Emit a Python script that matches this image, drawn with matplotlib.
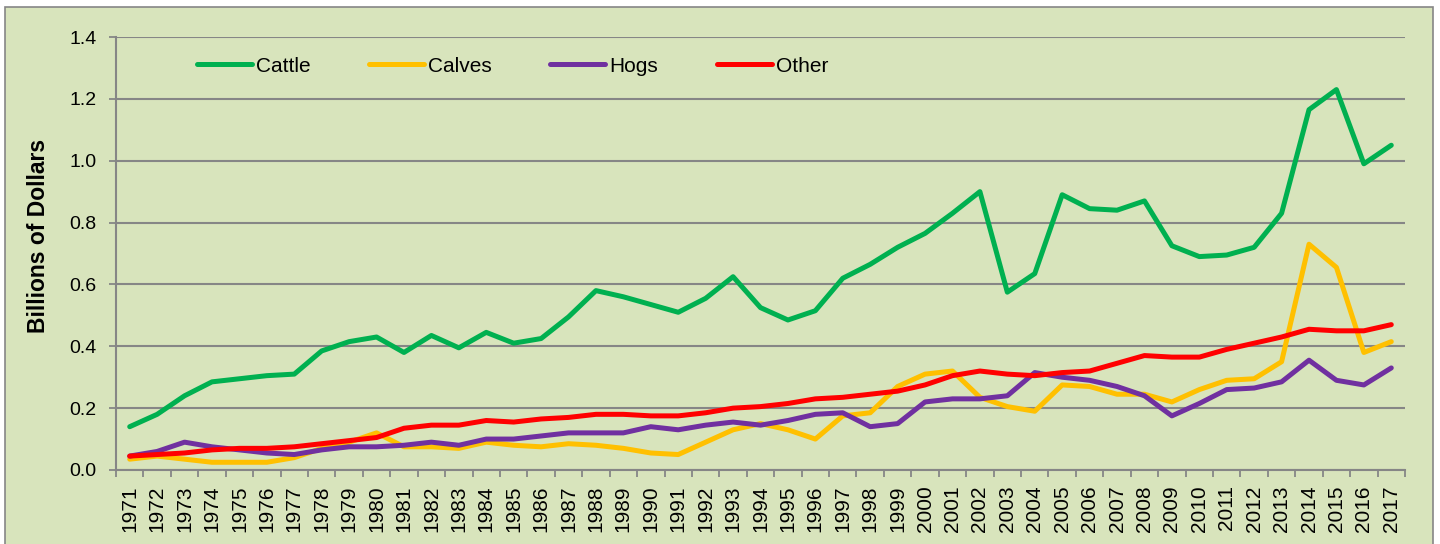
import matplotlib
matplotlib.use("Agg")
import matplotlib.pyplot as plt
from matplotlib.patches import Rectangle
import numpy as np

plt.rcParams['font.family'] = ['Liberation Sans', 'DejaVu Sans']

# 年份
years = list(range(1971, 2018))

# 各类收入 (十亿美元)
cattle = [0.14, 0.18, 0.24, 0.285, 0.295, 0.305, 0.31, 0.385, 0.415, 0.43,
          0.38, 0.435, 0.395, 0.445, 0.41, 0.425, 0.495, 0.58, 0.56, 0.535,
          0.51, 0.555, 0.625, 0.525, 0.485, 0.515, 0.62, 0.665, 0.72, 0.765,
          0.83, 0.9, 0.575, 0.635, 0.89, 0.845, 0.84, 0.87, 0.725, 0.69,
          0.695, 0.72, 0.83, 1.165, 1.23, 0.99, 1.05]
calves = [0.035, 0.045, 0.035, 0.025, 0.025, 0.025, 0.04, 0.07, 0.09, 0.12,
          0.075, 0.075, 0.07, 0.09, 0.08, 0.075, 0.085, 0.08, 0.07, 0.055,
          0.05, 0.09, 0.13, 0.15, 0.13, 0.1, 0.175, 0.185, 0.27, 0.31,
          0.32, 0.235, 0.205, 0.19, 0.275, 0.27, 0.245, 0.245, 0.22, 0.26,
          0.29, 0.295, 0.35, 0.73, 0.655, 0.38, 0.415]
hogs = [0.045, 0.06, 0.09, 0.075, 0.065, 0.055, 0.05, 0.065, 0.075, 0.075,
        0.08, 0.09, 0.08, 0.1, 0.1, 0.11, 0.12, 0.12, 0.12, 0.14,
        0.13, 0.145, 0.155, 0.145, 0.16, 0.18, 0.185, 0.14, 0.15, 0.22,
        0.23, 0.23, 0.24, 0.315, 0.3, 0.29, 0.27, 0.24, 0.175, 0.215,
        0.26, 0.265, 0.285, 0.355, 0.29, 0.275, 0.33]
other = [0.045, 0.05, 0.055, 0.065, 0.07, 0.07, 0.075, 0.085, 0.095, 0.105,
         0.135, 0.145, 0.145, 0.16, 0.155, 0.165, 0.17, 0.18, 0.18, 0.175,
         0.175, 0.185, 0.2, 0.205, 0.215, 0.23, 0.235, 0.245, 0.255, 0.275,
         0.305, 0.32, 0.31, 0.305, 0.315, 0.32, 0.345, 0.37, 0.365, 0.365,
         0.39, 0.41, 0.43, 0.455, 0.45, 0.45, 0.47]

bg = '#D8E4BC'
grid_c = '#868686'

fig = plt.figure(figsize=(14.4, 5.44), dpi=100, facecolor='white')
# 图表区背景和边框
fig.patches.append(Rectangle((5 / 1440, -0.05), 1428 / 1440, 1.05 - 7 / 544,
                             transform=fig.transFigure, facecolor=bg,
                             edgecolor=grid_c, linewidth=1.2, zorder=-1))

ax = fig.add_axes([116 / 1440, 74 / 544, 1289 / 1440, 433 / 544])
ax.set_facecolor(bg)

x = np.arange(len(years))
lw = 3.6
ax.plot(x, cattle, color='#00B050', linewidth=lw, label='Cattle', solid_capstyle='round')
ax.plot(x, calves, color='#FFC000', linewidth=lw, label='Calves', solid_capstyle='round')
ax.plot(x, hogs, color='#7030A0', linewidth=lw, label='Hogs', solid_capstyle='round')
ax.plot(x, other, color='#FF0000', linewidth=lw, label='Other', solid_capstyle='round')

ax.set_ylim(0, 1.4)
ax.set_xlim(-0.5, len(years) - 0.5)
yt = np.arange(0, 1.41, 0.2)
ax.set_yticks(yt)
ax.set_yticklabels(['%.1f' % v for v in yt], fontsize=14)
ax.set_xticks(x)
ax.set_xticklabels([str(y) for y in years], rotation=90, fontsize=15)
ax.set_xticks(np.arange(-0.5, len(years)), minor=True)
ax.tick_params(axis='x', which='major', length=0, pad=11)
ax.tick_params(axis='x', which='minor', length=5, color=grid_c, width=1.3)
ax.tick_params(axis='y', length=5, color=grid_c, width=1.3, pad=9)

ax.grid(axis='y', color=grid_c, linewidth=1.5)
ax.set_axisbelow(True)
for s in ['top', 'right']:
    ax.spines[s].set_visible(False)
for s in ['left', 'bottom']:
    ax.spines[s].set_color(grid_c)
    ax.spines[s].set_linewidth(1.5)

ax.set_ylabel('Billions of Dollars', fontsize=16.5, fontweight='bold')
ax.yaxis.set_label_coords(-0.0512, 0.54)

ax.legend(loc='center left', bbox_to_anchor=(0.0628, 0.933), ncol=4, frameon=False,
          fontsize=15, handlelength=2.64, columnspacing=2.8, handletextpad=0.2,
          borderpad=0, borderaxespad=0)

fig.savefig('out.png', dpi=100, facecolor='white')
